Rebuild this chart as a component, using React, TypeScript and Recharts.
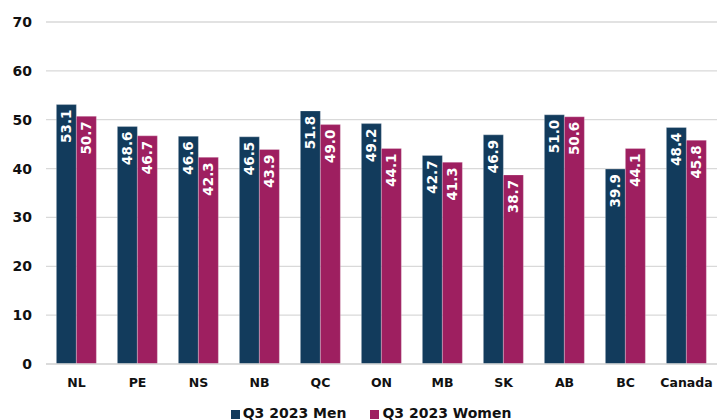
import React from 'react';
import { BarChart, Bar, XAxis, YAxis, CartesianGrid, LabelList } from 'recharts';

const provinces = ['NL', 'PE', 'NS', 'NB', 'QC', 'ON', 'MB', 'SK', 'AB', 'BC', 'Canada'];
const menValues = [53.1, 48.6, 46.6, 46.5, 51.8, 49.2, 42.7, 46.9, 51.0, 39.9, 48.4];
const womenValues = [50.7, 46.7, 42.3, 43.9, 49.0, 44.1, 41.3, 38.7, 50.6, 44.1, 45.8];
const yTicks = [0, 10, 20, 30, 40, 50, 60, 70];
const seriesNames = ['Q3 2023 Men', 'Q3 2023 Women'];

const NAVY = '#123B5C';
const MAGENTA = '#9E1F60';
const FONT = '"DejaVu Sans", sans-serif';

const data = provinces.map((p, i) => ({ name: p, men: menValues[i], women: womenValues[i] }));

// vertical value label sitting just under the top of each bar
const BarValue = (props: any) => {
  const { x, y, width, value } = props;
  const cx = x + width / 2;
  const cy = y + 5;
  return (
    <text
      x={cx}
      y={cy}
      transform={`rotate(-90, ${cx}, ${cy})`}
      textAnchor="end"
      dominantBaseline="central"
      fill="#ffffff"
      fontSize={13.5}
      fontWeight={700}
      fontFamily={FONT}
    >
      {Number(value).toFixed(1)}
    </text>
  );
};

const App: React.FC = () => {
  return (
    <div style={{ position: 'absolute', left: 0, top: 0, width: 717, height: 420, background: '#fff', overflow: 'hidden' }}>
      <BarChart
        width={717}
        height={420}
        data={data}
        margin={{ top: 22, right: 0, left: 0, bottom: 26 }}
        barCategoryGap="17%"
        barGap={0}
      >
        <CartesianGrid vertical={false} stroke="#d9d9d9" strokeWidth={1.3} />
        <XAxis
          dataKey="name"
          tickLine={false}
          axisLine={{ stroke: '#d9d9d9', strokeWidth: 1.3 }}
          tickSize={0}
          tickMargin={14}
          height={30}
          interval={0}
          tick={{ fill: '#111', fontSize: 12.5, fontWeight: 700, fontFamily: FONT }}
        />
        <YAxis
          domain={[0, 70]}
          ticks={yTicks}
          width={46}
          axisLine={false}
          tickLine={false}
          tickSize={0}
          tickMargin={14}
          tick={{ fill: '#111', fontSize: 14, fontWeight: 700, fontFamily: FONT }}
        />
        <Bar dataKey="men" name={seriesNames[0]} fill={NAVY} stroke="#ffffff" strokeOpacity={0.25} isAnimationActive={false}>
          <LabelList dataKey="men" content={BarValue} />
        </Bar>
        <Bar dataKey="women" name={seriesNames[1]} fill={MAGENTA} stroke="#ffffff" strokeOpacity={0.25} isAnimationActive={false}>
          <LabelList dataKey="women" content={BarValue} />
        </Bar>
      </BarChart>
      <div
        style={{
          position: 'absolute',
          top: 405,
          left: 0,
          width: 742,
          display: 'flex',
          justifyContent: 'center',
          gap: 24,
          fontFamily: FONT,
          fontWeight: 700,
          fontSize: 14,
          color: '#111',
        }}
      >
        {seriesNames.map((n, i) => (
          <div key={n} style={{ display: 'flex', alignItems: 'center', gap: 3 }}>
            <span style={{ width: 9, height: 9, background: i === 0 ? NAVY : MAGENTA, display: 'inline-block', marginTop: 3 }} />
            <span>{n}</span>
          </div>
        ))}
      </div>
    </div>
  );
};

export default App;
